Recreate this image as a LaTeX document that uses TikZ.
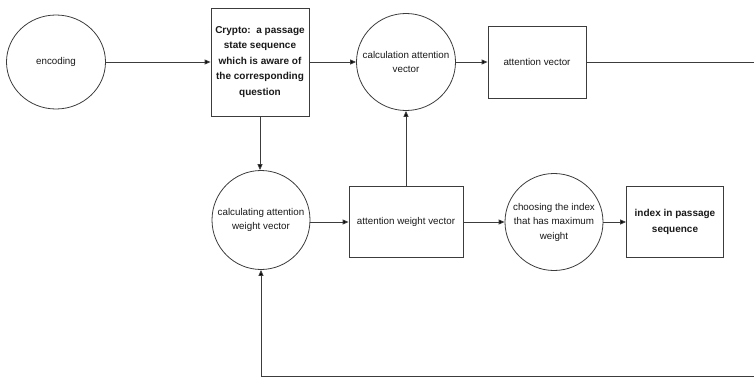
\documentclass[tikz,border=0pt]{standalone}
\definecolor{FlowGray}{RGB}{60,60,60}
\definecolor{TextGray}{RGB}{25,25,25}
\usepackage{fontspec}
\setmainfont{Liberation Sans}
\usepackage{tikz}
\usetikzlibrary{arrows.meta, shapes.geometric, positioning, calc}

\begin{document}
\begin{tikzpicture}[x=1pt, y=-1pt,
	every node/.style={font=\fontsize{9.8}{14.5}\selectfont, text=TextGray, align=center, inner sep=0pt},
	proc/.style={ellipse, draw=FlowGray, line width=0.8pt, inner xsep=-9pt, minimum width=99pt, minimum height=96pt},
	datum/.style={rectangle, draw=FlowGray, line width=0.8pt, minimum width=98pt, minimum height=71pt},
	flow/.style={FlowGray, line width=0.9pt, -{Triangle[length=6pt, width=5pt, fill=black]}}]
	\useasboundingbox (0,0) rectangle (754,377);
	\clip (0,0) rectangle (754,377);

	% fila de arriba
	\node[proc, minimum height=94pt] (enc) at (56,62) {encoding};
	\node[datum, minimum height=108pt, font=\fontsize{10}{15.5}\selectfont\bfseries] (crypto) at (260,62)
		{Crypto:\ \ a passage\\state sequence\\which is aware of\\the corresponding\\question};
	\node[proc, minimum height=97pt] (calcv) at (406,62) {calculation attention\\vector};
	\node[datum, minimum height=72pt] (attv) at (537,62) {attention vector};

	% fila de abajo
	\node[proc, minimum width=98pt, minimum height=99pt] (calcw) at (261,220) {calculating attention\\weight vector};
	\node[datum, minimum width=114pt] (attw) at (406,222) {attention weight vector};
	\node[proc, minimum width=98pt, minimum height=97pt] (choose) at (554,222) {choosing the index\\that has maximum\\weight};
	\node[datum, minimum width=97pt, font=\fontsize{10}{15.5}\selectfont\bfseries] (idx) at (675,222) {index in passage\\sequence};

	% conexiones
	\draw[flow] (enc) -- (crypto);
	\draw[flow] (crypto) -- (calcv);
	\draw[flow] (calcv) -- (attv);
	\draw[flow] (crypto.south) -- (crypto.south |- calcw.north);
	\draw[flow] (calcw.east |- attw.west) -- (attw.west);
	\draw[flow] (attw.north) -- (attw.north |- calcv.south);
	\draw[flow] (attw) -- (choose);
	\draw[flow] (choose) -- (idx);

	% vuelta por fuera del dibujo
	\coordinate (loopR) at (760,62);
	\coordinate (loopB) at (760,376);
	\draw[flow] (attv.east) -- (loopR) -- (loopB) -| (calcw.south);
\end{tikzpicture}
\end{document}
